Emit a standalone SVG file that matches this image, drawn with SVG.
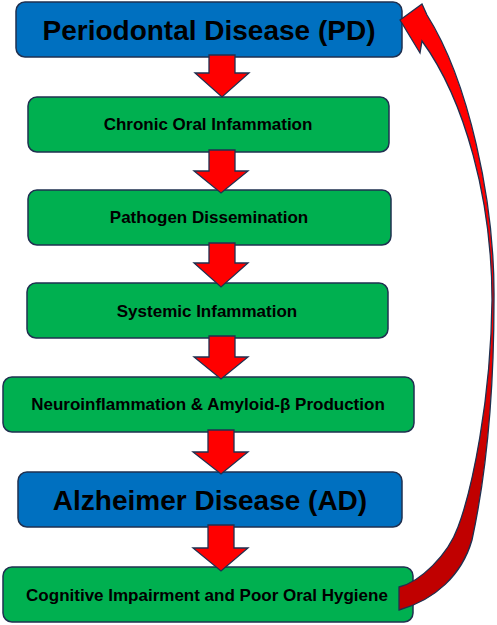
<svg xmlns="http://www.w3.org/2000/svg" width="497" height="625" viewBox="0 0 497 625">
<style>
.box{stroke:#1F3050;stroke-width:1.5}
.blue{fill:#0070C0}
.green{fill:#00B050}
.t{font-family:"Liberation Sans",Arial,sans-serif;font-weight:bold;fill:#000;text-anchor:middle}
.big{font-size:28px}
.sm{font-size:17px}
.arr{fill:#FF0000;stroke:#1F3050;stroke-width:1.3;stroke-linejoin:miter}
</style>
<defs>
<linearGradient id="curveFill" gradientUnits="userSpaceOnUse" x1="0" y1="300" x2="0" y2="470">
<stop offset="0" stop-color="#FF0000"/>
<stop offset="1" stop-color="#C00000"/>
</linearGradient>
</defs>
<g id="node-pd">
<rect class="box blue" x="16" y="2" width="386" height="55" rx="9"/>
<text class="t big" x="209" y="40">Periodontal Disease (PD)</text>
</g>
<g id="node-chronic">
<rect class="box green" x="28" y="97" width="361" height="55" rx="9"/>
<text class="t sm" x="208" y="130">Chronic Oral Infammation</text>
</g>
<g id="node-pathogen">
<rect class="box green" x="28" y="190" width="363" height="55" rx="9"/>
<text class="t sm" x="209" y="223">Pathogen Dissemination</text>
</g>
<g id="node-systemic">
<rect class="box green" x="27" y="283" width="361" height="55" rx="9"/>
<text class="t sm" x="207" y="317">Systemic Infammation</text>
</g>
<g id="node-neuro">
<rect class="box green" x="3" y="377" width="411" height="55" rx="9"/>
<text class="t sm" x="208" y="410">Neuroinflammation &amp; Amyloid-β Production</text>
</g>
<g id="node-ad">
<rect class="box blue" x="18" y="472" width="384" height="55" rx="9"/>
<text class="t big" x="210" y="510">Alzheimer Disease (AD)</text>
</g>
<g id="node-cognitive">
<rect class="box green" x="3" y="567" width="410" height="55" rx="9"/>
<text class="t sm" x="207" y="601">Cognitive Impairment and Poor Oral Hygiene</text>
</g>
<g id="connectors">
<path class="arr" d="M209,55 H235 V73 H249 L222,97 L195,73 H209 Z"/>
<path class="arr" d="M209,150 H235 V171 H248 L221,193 L194,171 H209 Z"/>
<path class="arr" d="M209,243 H235 V263 H248 L221,287 L194,263 H209 Z"/>
<path class="arr" d="M209,336 H235 V357 H248 L221,379 L194,357 H209 Z"/>
<path class="arr" d="M208,430 H234 V452 H248 L221,474 L193,452 H208 Z"/>
<path class="arr" d="M208,525 H234 V548 H248 L221,571 L193,548 H208 Z"/>
<path id="feedback" fill="url(#curveFill)" stroke="#1F3050" stroke-width="1.3" stroke-linejoin="miter" d="M400,20 L422,4 L427,15 C468,80 495,200 494,300 C494,400 485,480 472,540 C462,575 435,600 399,610 L399,587 C420,582 448,555 458,527 C472,490 491,400 492,300 C492,200 465,100 422,41 L420,53 Z"/>
</g>
</svg>
